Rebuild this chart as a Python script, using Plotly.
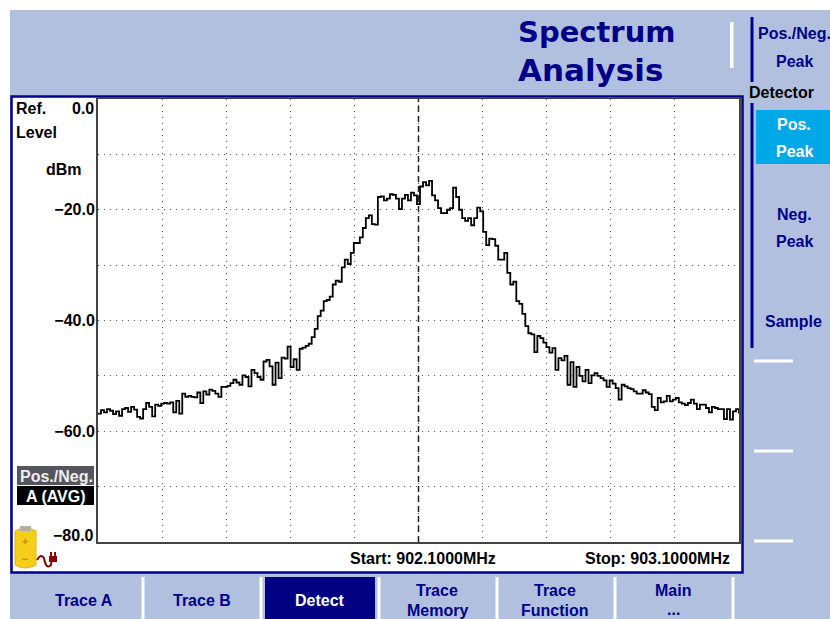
import numpy as np
import plotly.graph_objects as go

W, H = 830, 619
BG = "#B2C0E0"
NAVY = "#000088"
BOLD = "Liberation Sans"

# trace, left to right (dBm)
trace_left = [
    -56.8, -56.2, -56.6, -56.0, -56.3, -56.9, -56.4, -57.2, -56.0, -55.8,
    -56.5, -55.6, -56.1, -57.4, -57.7, -56.0, -54.9, -55.6, -57.3, -55.2,
    -55.4, -55.0, -54.9, -55.0, -54.8, -56.6, -54.5, -56.8, -53.2, -53.8,
    -53.6, -53.8, -53.9, -53.0, -54.9, -52.8, -53.4, -52.5, -52.7, -53.2,
    -53.8, -52.0, -52.0, -51.8, -51.3, -50.7, -51.2, -51.6, -49.9, -50.2,
    -51.9, -48.9, -49.5, -50.2, -50.7, -47.4, -47.1, -48.3, -51.6, -47.6,
    -50.4, -46.7, -46.9, -44.7, -48.4, -47.0, -48.9, -45.1, -44.9, -44.6,
    -44.2, -43.0, -41.5,
]
trace_rise = [
    -39.2, -38.2, -36.5, -36.3, -35.7, -33.5, -32.8, -33.0, -30.4, -29.0,
    -29.8, -27.8, -26.0, -26.0, -25.0, -23.3, -21.5, -21.0, -22.6, -22.7,
    -17.7, -17.6, -18.3, -18.0, -17.2, -17.3, -18.0, -19.9, -18.0, -17.3,
    -18.3, -16.9, -17.4, -19.0, -15.8,
]
trace_fall = [
    -15.0, -15.6, -14.8, -17.4, -18.3, -19.7, -20.6, -20.6, -20.0, -19.7,
    -16.0, -17.7, -20.0, -21.5, -22.0, -21.5, -22.8, -21.5, -19.6, -20.3,
    -24.0, -26.4, -25.2, -25.3, -26.5, -29.0, -29.0, -27.8, -31.4, -33.5,
    -33.0, -36.5, -37.0, -38.8, -41.0, -42.3, -42.5, -45.7,
]
trace_right = [
    -42.8, -43.2, -44.0, -44.8, -45.8, -45.0, -48.9, -46.8, -47.2, -46.4,
    -51.6, -47.5, -52.0, -48.4, -50.0, -51.0, -48.9, -51.3, -49.9, -49.5,
    -50.0, -50.4, -50.8, -52.0, -50.8, -51.4, -52.2, -54.3, -51.6, -51.9,
    -52.2, -52.4, -52.8, -53.2, -53.2, -52.6, -53.0, -53.3, -55.6, -56.2,
    -54.0, -54.8, -54.6, -53.6, -54.6, -54.3, -54.0, -54.8, -55.0, -55.3,
    -54.9, -54.3, -55.0, -56.0, -55.2, -55.2, -55.8, -56.6, -55.6, -55.8,
    -56.0, -56.0, -57.8, -56.0, -57.9, -56.4, -56.0, -56.8,
]
trace_dbm = trace_left + trace_rise + trace_fall + trace_right

start_mhz = 902.1
stop_mhz = 903.1
freq = np.linspace(start_mhz, stop_mhz, len(trace_dbm))

y_grid = [0, -10, -20, -30, -40, -50, -60, -70, -80]
y_labels = ["", "", "\u221220.0", "", "\u221240.0", "", "\u221260.0", "", ""]
x_grid = [902.1, 902.2, 902.3, 902.4, 902.5, 902.6, 902.7, 902.8, 902.9, 903.0, 903.1]


def px(x):
    return x / W


def py(y):
    return 1 - y / H


def rect(x0, y0, x1, y1, fill, line=None, lw=0, layer="below"):
    return dict(type="rect", xref="paper", yref="paper", layer=layer,
                x0=px(x0), x1=px(x1), y0=py(y0), y1=py(y1),
                fillcolor=fill, line=dict(color=line or fill, width=lw))


def label(x, y, text, color=NAVY, size=16, anchor="center", family=BOLD):
    return dict(x=px(x), y=py(y), xref="paper", yref="paper", text=text,
                showarrow=False, xanchor=anchor, yanchor="middle",
                font=dict(family=family, size=size, color=color, weight=700))


fig = go.Figure()
fig.add_trace(go.Scatter(
    x=freq,
    y=trace_dbm,
    mode="lines",
    line=dict(color="#000000", width=1.8, shape="hv"),
    showlegend=False,
))

shapes = [
    rect(10, 10, W, H, BG),
    rect(11.5, 96.5, 742.5, 572.5, "#FFFFFF", "#000090", 2.5),
    rect(756, 110, 830, 164, "#00A8E8"),
    rect(265, 577, 375, H, "#000080"),
    rect(750.5, 17, 753.5, 82, "#000090"),
    rect(750.5, 103, 753.5, 348, "#000090"),
    rect(730, 22, 733.5, 68, "#FFFFFF"),
    rect(17, 466, 94, 485, "#555560"),
    rect(17, 486, 94, 505, "#000000"),
]
for sep in [143, 261, 379, 497, 615, 733]:
    shapes.append(rect(sep - 1.5, 577, sep + 1.5, H, "#FFFFFF"))
for hy in [361, 451, 541]:
    shapes.append(rect(754, hy - 1.5, 793, hy + 1.5, "#FFFFFF"))

# battery and mains plug
shapes += [
    dict(type="path", xref="paper", yref="paper", layer="above",
         path=f"M {px(15)} {py(531)} Q {px(25)} {py(525)} {px(36)} {py(531)} L {px(36)} {py(565)} "
              f"Q {px(25)} {py(571)} {px(15)} {py(565)} Z",
         fillcolor="#F5CE1A", line=dict(color="#E0B810", width=1)),
    rect(20, 526, 31, 531, "#B0B0A0", layer="above"),
    dict(type="path", xref="paper", yref="paper", layer="above",
         path=f"M {px(37)} {py(560)} Q {px(41)} {py(553)} {px(44)} {py(558)} "
              f"Q {px(46)} {py(570)} {px(51)} {py(565)} L {px(52)} {py(558)}",
         line=dict(color="#8B0000", width=2)),
    rect(49, 556, 57, 562, "#8B0000", layer="above"),
    rect(50, 552, 52, 556, "#8B0000", layer="above"),
    rect(54, 552, 56, 556, "#8B0000", layer="above"),
    # centre marker
    dict(type="line", xref="x", yref="y", x0=(start_mhz + stop_mhz) / 2, x1=(start_mhz + stop_mhz) / 2,
         y0=-80, y1=0, line=dict(color="#222222", width=1.5, dash="6px,4px"), layer="above"),
]

title_font = "DejaVu Sans"
annotations = [
    label(516, 32, "Spectrum", size=29, family=title_font, anchor="left"),
    label(516, 70, "Analysis", size=31, family=title_font, anchor="left"),
    label(794, 34, "Pos./Neg."),
    label(794, 61, "Peak"),
    label(781, 92, "Detector", color="#000000"),
    label(794, 124, "Pos.", color="#FFFFFF"),
    label(794, 151, "Peak", color="#FFFFFF"),
    label(794, 214, "Neg."),
    label(794, 241, "Peak"),
    label(793, 321, "Sample"),
    label(14, 109, "Ref.", color="#000000", anchor="left"),
    label(96, 108, "0.0", color="#000000", anchor="right"),
    label(14, 132, "Level", color="#000000", anchor="left"),
    label(64, 170, "dBm", color="#000000"),
    label(96, 535, "\u221280.0", color="#000000", anchor="right"),
    label(56, 476, "Pos./Neg.", color="#EEEEEE"),
    label(56, 496, "A (AVG)", color="#FFFFFF"),
    label(423, 558, "Start: 902.1000MHz", color="#000000"),
    label(657, 558, "Stop: 903.1000MHz", color="#000000"),
    label(84, 600, "Trace A"),
    label(202, 600, "Trace B"),
    label(320, 600, "Detect", color="#FFFFFF"),
    label(437, 590, "Trace"),
    label(437, 610, "Memory"),
    label(555, 590, "Trace"),
    label(555, 610, "Function"),
    label(673, 590, "Main"),
    label(673, 609, "..."),
    label(25, 541, "+", color="#C88A00", size=11),
    label(25, 559, "\u2212", color="#C88A00", size=11),
]

fig.update_layout(
    width=W,
    height=H,
    autosize=False,
    margin=dict(l=0, r=0, t=0, b=0),
    paper_bgcolor="#FFFFFF",
    plot_bgcolor="#FFFFFF",
    shapes=shapes,
    annotations=annotations,
    xaxis=dict(
        domain=[px(98), px(739)],
        range=[start_mhz, stop_mhz],
        tickvals=x_grid,
        showticklabels=False,
        ticks="",
        showgrid=True,
        gridcolor="#555555",
        griddash="1px,5px",
        gridwidth=1,
        zeroline=False,
        showline=True,
        linecolor="#444444",
        linewidth=2,
        mirror=True,
    ),
    yaxis=dict(
        domain=[py(542), py(99)],
        range=[-80, 0],
        tickvals=y_grid,
        ticktext=y_labels,
        ticks="",
        ticklabelstandoff=-2,
        tickfont=dict(family=BOLD, size=16, color="#000000", weight=700),
        showgrid=True,
        gridcolor="#555555",
        griddash="1px,5px",
        gridwidth=1,
        zeroline=False,
        showline=True,
        linecolor="#444444",
        linewidth=2,
        mirror=True,
    ),
)

fig.write_html("out.html", config=dict(displayModeBar=False),
               post_script="document.body.style.margin='0';")
